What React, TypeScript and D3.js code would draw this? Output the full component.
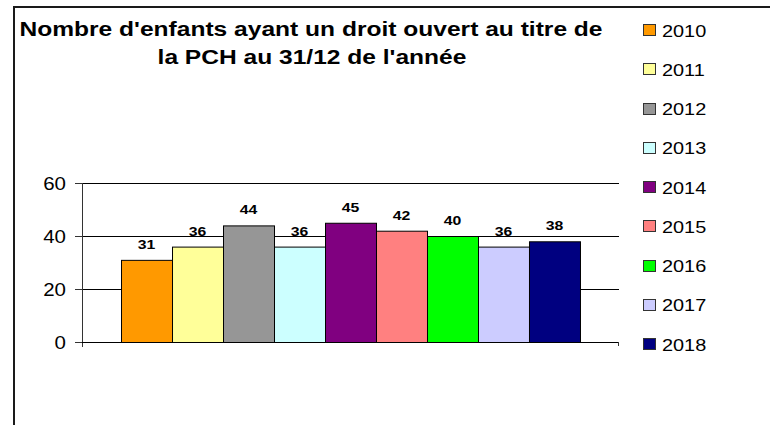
import React, { useEffect, useRef } from 'react'
import * as d3 from 'd3'

const years = ['2010', '2011', '2012', '2013', '2014', '2015', '2016', '2017', '2018']
const values = [31, 36, 44, 36, 45, 42, 40, 36, 38]
const colors = ['#FF9900', '#FFFF99', '#969696', '#CCFFFF', '#800080', '#FF8080', '#00FF00', '#CCCCFF', '#000080']
const yTicks = [0, 20, 40, 60]
const titleLines = ["Nombre d'enfants ayant un droit ouvert au titre de", "la PCH au 31/12 de l'année"]

const FONT = "'Liberation Sans', Arial, Helvetica, sans-serif"
const SX = 1.17 // the source text is a bit stretched horizontally

export default function App() {
  const svgRef = useRef<SVGSVGElement | null>(null)

  useEffect(() => {
    if (!svgRef.current) return
    const W = 770
    const H = 425
    const svg = d3.select(svgRef.current)
    svg.selectAll('*').remove()
    svg.attr('width', W).attr('height', H)

    const plot = { left: 82, right: 619, top: 183, bottom: 342 }

    const txt = (x: number, y: number, s: string, size: number, anchor: string, bold = false) =>
      svg.append('text')
        .attr('transform', `translate(${x},${y}) scale(${SX},1)`)
        .attr('text-anchor', anchor)
        .attr('font-family', FONT).attr('font-size', size)
        .attr('font-weight', bold ? 'bold' : 'normal')
        .attr('fill', '#000')
        .text(s)

    // white background + frame (cut off at right and bottom)
    svg.append('rect').attr('width', W).attr('height', H).attr('fill', '#fff')
    svg.append('rect')
      .attr('x', 14).attr('y', 7).attr('width', 800).attr('height', 500)
      .attr('fill', 'none').attr('stroke', '#1a1a1a').attr('stroke-width', 2)

    const y = d3.scaleLinear().domain([0, 60]).range([plot.bottom, plot.top])
    const x = d3.scaleBand<string>().domain(years)
      .range([plot.left, plot.right]).paddingInner(0).paddingOuter(0.765)

    // grid lines
    yTicks.filter(t => t > 0).forEach(t => {
      svg.append('line')
        .attr('x1', plot.left).attr('x2', plot.right)
        .attr('y1', Math.round(y(t)) + 0.5).attr('y2', Math.round(y(t)) + 0.5)
        .attr('stroke', '#000').attr('stroke-width', 1)
    })

    // bars
    years.forEach((yr, i) => {
      const bx = x(yr) as number
      svg.append('rect')
        .attr('x', bx + 0.5).attr('y', y(values[i]) + 0.5)
        .attr('width', x.bandwidth()).attr('height', y(0) - y(values[i]))
        .attr('fill', colors[i]).attr('stroke', '#000').attr('stroke-width', 1)
      txt(bx + x.bandwidth() / 2, y(values[i]) - 11, String(values[i]), 13.5, 'middle', true)
    })

    // axes
    svg.append('line')
      .attr('x1', plot.left + 0.5).attr('x2', plot.left + 0.5)
      .attr('y1', plot.top).attr('y2', plot.bottom + 5)
      .attr('stroke', '#333').attr('stroke-width', 1)
    svg.append('line')
      .attr('x1', plot.left).attr('x2', plot.right)
      .attr('y1', plot.bottom + 0.5).attr('y2', plot.bottom + 0.5)
      .attr('stroke', '#000').attr('stroke-width', 1)
    svg.append('line')
      .attr('x1', plot.right - 0.5).attr('x2', plot.right - 0.5)
      .attr('y1', plot.bottom).attr('y2', plot.bottom + 4)
      .attr('stroke', '#333').attr('stroke-width', 1)

    yTicks.forEach(t => {
      const ty = Math.round(y(t)) + 0.5
      svg.append('line')
        .attr('x1', plot.left - 7).attr('x2', plot.left)
        .attr('y1', ty).attr('y2', ty)
        .attr('stroke', '#333').attr('stroke-width', 1)
      txt(66, ty + 6, String(t), 17.5, 'end')
    })

    // title
    txt(311, 36, titleLines[0], 21, 'middle', true)
    txt(312, 64, titleLines[1], 21, 'middle', true)

    // legend
    const ly = d3.scalePoint<string>().domain(years).range([30, 344])
    years.forEach((yr, i) => {
      const cy = ly(yr) as number
      svg.append('rect')
        .attr('x', 643.5).attr('y', Math.round(cy - 6) + 0.5).attr('width', 12).attr('height', 11)
        .attr('fill', colors[i]).attr('stroke', '#333').attr('stroke-width', 1)
      txt(662, cy + 6.5, yr, 17, 'start')
    })
  }, [])

  return (
    <div style={{ position: 'fixed', left: 0, top: 0, width: 770, height: 425, background: '#fff' }}>
      <svg ref={svgRef} style={{ display: 'block' }} />
    </div>
  )
}
